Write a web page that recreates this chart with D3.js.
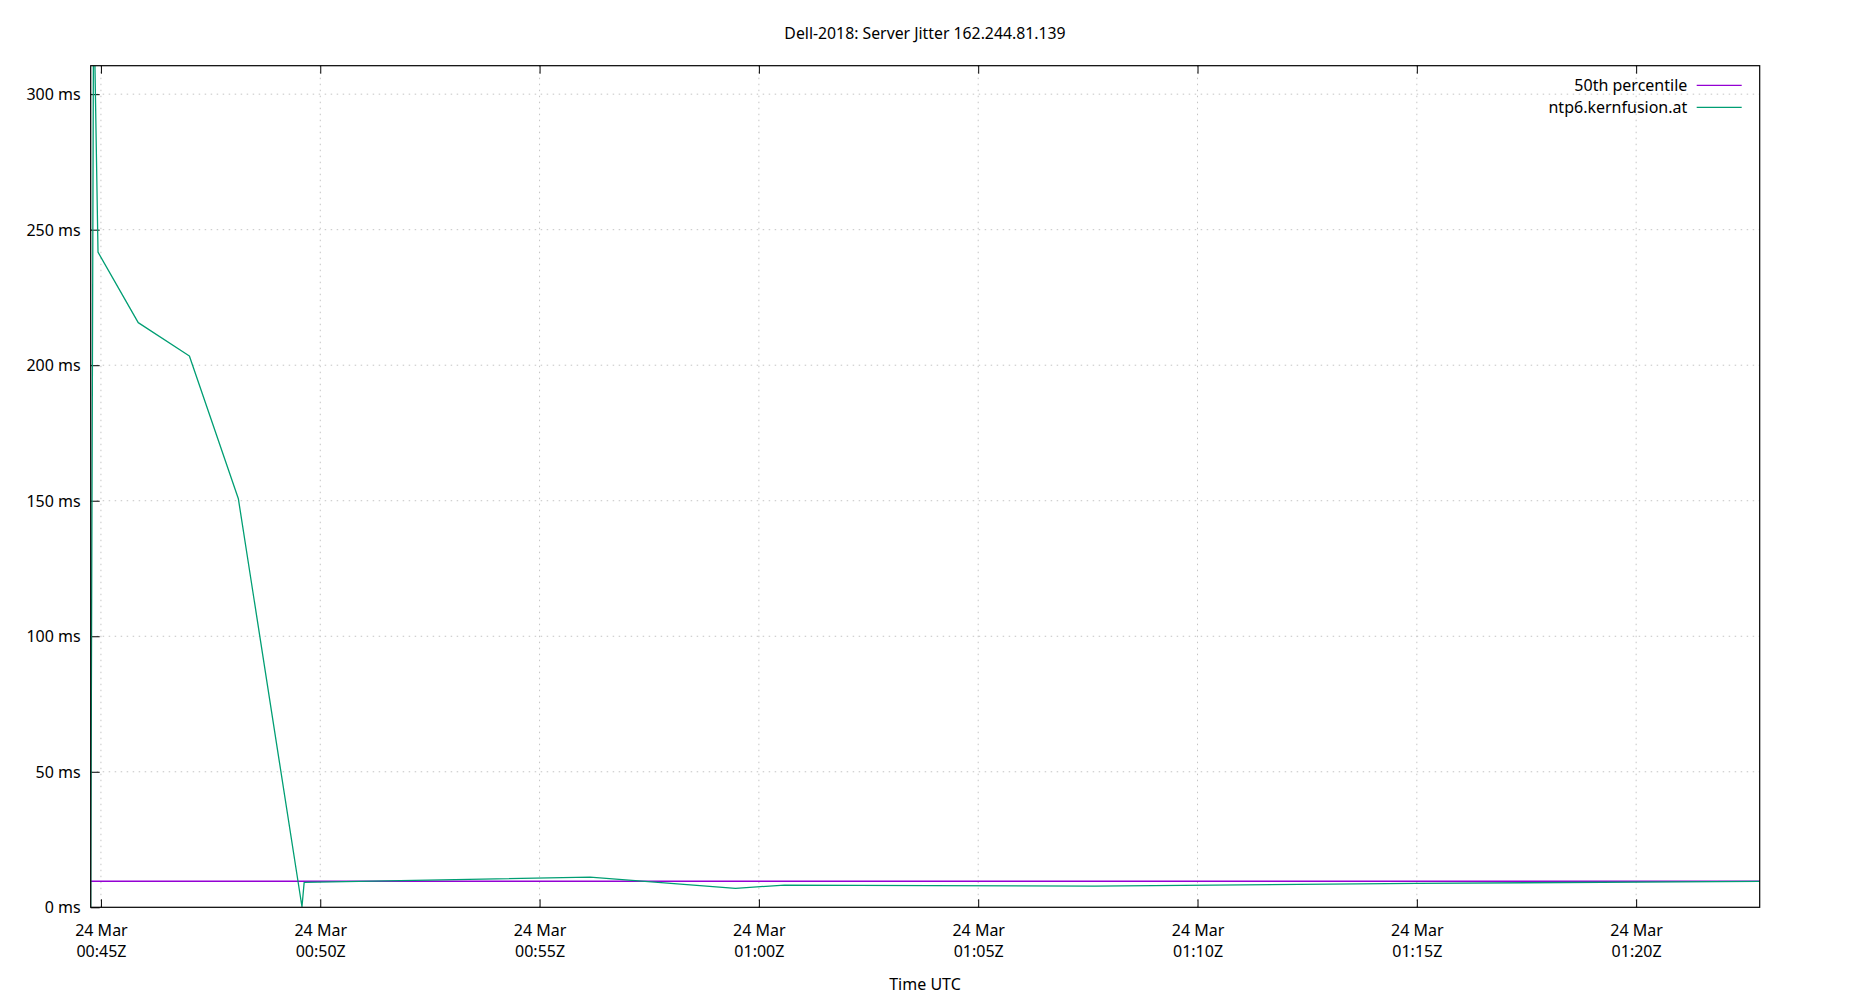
<!DOCTYPE html>
<html>
<head>
<meta charset="utf-8">
<script src="https://cdn.jsdelivr.net/npm/d3@7"></script>
<style>
  html, body { margin: 0; padding: 0; background: #fff; }
  svg text { font-family: "Noto Sans", "Open Sans", sans-serif; font-size: 16px; fill: #000; }
</style>
</head>
<body>
<div id="chart"></div>
<script>
// values
const chartTitle = 'Dell-2018: Server Jitter 162.244.81.139';
const xAxisTitle = 'Time UTC';
const sampleTimes = ['00:44:46', '00:44:50', '00:44:56', '00:45:51', '00:47:01', '00:48:08', '00:49:35',
    '00:49:38', '00:56:09', '00:59:28', '01:00:35', '01:03:54', '01:07:39', '01:15:00', '01:22:49'];
const jitterMs = [0, 340, 241.7, 215.7, 203.4, 150.7, 0.2, 9.2, 11.1, 7.0, 8.2, 8.0, 7.8, 8.8, 9.6];
const percentile50 = 9.6;
const seriesNames = ['50th percentile', 'ntp6.kernfusion.at'];
const seriesColors = ['#9400d3', '#009e73'];
const yTicks = [0, 50, 100, 150, 200, 250, 300];
const yMax = 310.5;

window.addEventListener('DOMContentLoaded', () => {

    const width = 1850,
        height = 1000,
        margin = { top: 65.7, right: 90.3, bottom: 92.7, left: 90.7 };

    const toDate = s => new Date('2024-03-24T' + s + 'Z');
    const data = sampleTimes.map((t, i) => ({ t: toDate(t), v: jitterMs[i] }));

    const svg = d3.select('#chart')
        .append('svg')
        .attr('width', width)
        .attr('height', height);

    const x = d3.scaleUtc()
        .domain(d3.extent(data, d => d.t))
        .range([margin.left, width - margin.right]);

    const y = d3.scaleLinear()
        .domain([0, yMax])
        .range([height - margin.bottom, margin.top]);

    const xTicks = d3.utcMinute.every(5).range(x.domain()[0], x.domain()[1]);

    svg.append('defs').append('clipPath')
        .attr('id', 'plotClip')
        .append('rect')
        .attr('x', margin.left)
        .attr('y', margin.top)
        .attr('width', width - margin.left - margin.right)
        .attr('height', height - margin.top - margin.bottom);

    // grid
    const grid = svg.append('g').attr('stroke', '#c4c4c4').attr('stroke-dasharray', '1.5,4.5');
    grid.selectAll('.gx').data(xTicks).enter().append('line')
        .attr('x1', d => x(d)).attr('x2', d => x(d))
        .attr('y1', margin.top).attr('y2', height - margin.bottom);
    grid.selectAll('.gy').data(yTicks.filter(d => d > 0)).enter().append('line')
        .attr('x1', margin.left).attr('x2', width - margin.right)
        .attr('y1', d => y(d)).attr('y2', d => y(d));

    // axes
    const fmtDay = d3.utcFormat('%-d %b'),
        fmtTime = d3.utcFormat('%H:%MZ');

    const xAxis = svg.append('g')
        .attr('transform', `translate(0,${height - margin.bottom})`)
        .call(d3.axisBottom(x).tickValues(xTicks).tickSize(-8).tickFormat(''));
    xAxis.select('.domain').remove();
    xAxis.selectAll('.tick line').attr('stroke', '#000');
    xAxis.selectAll('.tick text').remove();
    xAxis.selectAll('.tick').each(function(d) {
        const t = d3.select(this).append('text')
            .attr('text-anchor', 'middle')
            .attr('fill', '#000');
        t.append('tspan').attr('x', 0).attr('y', 28.7).text(fmtDay(d));
        t.append('tspan').attr('x', 0).attr('y', 49.4).text(fmtTime(d));
    });

    const xTop = svg.append('g')
        .attr('transform', `translate(0,${margin.top})`)
        .call(d3.axisTop(x).tickValues(xTicks).tickSize(-8).tickFormat(''));
    xTop.select('.domain').remove();
    xTop.selectAll('.tick line').attr('stroke', '#000');

    const yAxis = svg.append('g')
        .attr('transform', `translate(${margin.left},0)`)
        .call(d3.axisLeft(y).tickValues(yTicks).tickSize(-9).tickPadding(10).tickFormat(d => d + ' ms'));
    yAxis.select('.domain').remove();
    yAxis.selectAll('.tick line').attr('stroke', '#000');
    yAxis.selectAll('.tick text')
        .attr('x', -10)
        .attr('dy', '0.35em')
        .style('font-size', '16px')
        .attr('fill', '#000');

    // lines
    const plot = svg.append('g').attr('clip-path', 'url(#plotClip)');

    plot.append('line')
        .attr('x1', x.range()[0]).attr('x2', x.range()[1])
        .attr('y1', y(percentile50)).attr('y2', y(percentile50))
        .attr('stroke', seriesColors[0])
        .attr('stroke-width', 1.5);

    const line = d3.line()
        .x(d => x(d.t))
        .y(d => y(d.v));

    plot.append('path')
        .datum(data)
        .attr('fill', 'none')
        .attr('stroke', seriesColors[1])
        .attr('stroke-width', 1.3)
        .attr('stroke-linejoin', 'round')
        .attr('d', line);

    // border
    svg.append('rect')
        .attr('x', margin.left)
        .attr('y', margin.top)
        .attr('width', width - margin.left - margin.right)
        .attr('height', height - margin.top - margin.bottom)
        .attr('fill', 'none')
        .attr('stroke', '#000')
        .attr('stroke-width', 1.2);

    // legend
    const legend = svg.append('g');
    seriesNames.forEach((name, i) => {
        const ly = 85.3 + i * 22;
        legend.append('text')
            .attr('x', 1687.3)
            .attr('y', ly)
            .attr('dy', '0.35em')
            .attr('text-anchor', 'end')
            .text(name);
        legend.append('line')
            .attr('x1', 1696.7).attr('x2', 1741.7)
            .attr('y1', ly).attr('y2', ly)
            .attr('stroke', seriesColors[i])
            .attr('stroke-width', 1.3);
    });

    // titles
    svg.append('text')
        .attr('x', width / 2)
        .attr('y', 39)
        .attr('text-anchor', 'middle')
        .style('font-size', '15.8px')
        .text(chartTitle);

    svg.append('text')
        .attr('x', width / 2)
        .attr('y', 990.3)
        .attr('text-anchor', 'middle')
        .text(xAxisTitle);

}); //end of doc ready
</script>
</body>
</html>
